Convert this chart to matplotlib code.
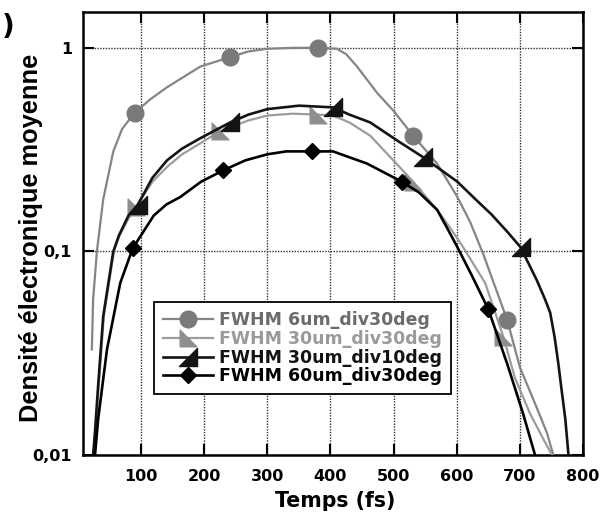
import matplotlib
matplotlib.use("Agg")
import matplotlib.pyplot as plt
from matplotlib.ticker import FixedLocator, FixedFormatter, NullLocator
from matplotlib.path import Path

# ---- data ----
t_6um30 = [22, 24, 30, 40, 56, 70, 90, 115, 141, 194, 241, 270, 300, 340, 380, 410, 425,
           442, 474, 500, 531, 569, 601, 621, 642, 680, 700, 727, 743, 753]
d_6um30 = [0.033, 0.058, 0.10, 0.18, 0.31, 0.40, 0.48, 0.56, 0.64, 0.81, 0.90, 0.96, 0.99,
           1.0, 1.0, 0.99, 0.93, 0.81, 0.60, 0.49, 0.37, 0.27, 0.185, 0.14, 0.097, 0.046,
           0.027, 0.017, 0.0128, 0.01]
m_6um30 = [6, 10, 14, 20, 25]

t_30um30 = [25, 28, 33, 41, 57, 65, 80, 92, 118, 141, 165, 194, 225, 270, 300, 340, 380, 404,
            430, 463, 495, 531, 569, 590, 610, 645, 674, 692, 716, 737, 751]
d_30um30 = [0.01, 0.013, 0.022, 0.048, 0.10, 0.118, 0.145, 0.165, 0.22, 0.26, 0.30, 0.34,
            0.39, 0.44, 0.465, 0.475, 0.47, 0.465, 0.43, 0.37, 0.29, 0.22, 0.16, 0.13, 0.105,
            0.07, 0.038, 0.024, 0.016, 0.012, 0.01]
m_30um30 = [7, 12, 16, 21, 26]

t_30um10 = [24, 27, 32, 40, 56, 65, 80, 95, 118, 141, 165, 194, 241, 270, 300, 350, 404, 430,
            463, 506, 547, 601, 630, 655, 680, 701, 727, 740, 748, 755, 761, 766, 772, 777]
d_30um10 = [0.01, 0.013, 0.022, 0.048, 0.10, 0.12, 0.15, 0.17, 0.23, 0.28, 0.32, 0.36, 0.43,
            0.47, 0.50, 0.52, 0.51, 0.47, 0.43, 0.35, 0.29, 0.22, 0.18, 0.152, 0.125, 0.105,
            0.072, 0.058, 0.05, 0.038, 0.028, 0.021, 0.015, 0.01]
m_30um10 = [7, 12, 16, 20, 25]

t_60um30 = [27, 32, 46, 67, 87, 100, 120, 140, 162, 195, 230, 265, 300, 330, 371, 404, 458,
            513, 540, 569, 585, 601, 625, 650, 680, 705, 724]
d_60um30 = [0.01, 0.015, 0.033, 0.07, 0.104, 0.12, 0.15, 0.17, 0.185, 0.22, 0.25, 0.28, 0.30,
            0.31, 0.31, 0.31, 0.27, 0.22, 0.195, 0.16, 0.13, 0.105, 0.075, 0.052, 0.028,
            0.016, 0.01]
m_60um30 = [4, 10, 14, 17, 23]

labels = ["FWHM 6um_div30deg", "FWHM 30um_div30deg", "FWHM 30um_div10deg", "FWHM 60um_div30deg"]
x_ticks = [100, 200, 300, 400, 500, 600, 700, 800]
y_ticks = [0.01, 0.1, 1]
y_ticklabels = ["0,01", "0,1", "1"]

# ---- styling ----
tri_bl = Path([(-1, -1), (1, -1), (-1, 1), (-1, -1)], closed=True)  # gray marker
tri_br = Path([(-1, -1), (1, -1), (1, 1), (-1, -1)], closed=True)   # black marker

fig = plt.figure(figsize=(6.15, 5.13), dpi=100)
ax = fig.add_axes([83/615, 1 - 455/513, 500/615, 443/513])

ax.plot(t_6um30, d_6um30, color="#858585", lw=1.6, marker="o", ms=12,
        mfc="#7a7a7a", mec="#7a7a7a", markevery=m_6um30, label=labels[0], zorder=3)
ax.plot(t_30um30, d_30um30, color="#9c9c9c", lw=1.6, marker=tri_bl, ms=12,
        mfc="#8e8e8e", mec="#8e8e8e", markevery=m_30um30, label=labels[1], zorder=3)
ax.plot(t_30um10, d_30um10, color="#141414", lw=1.9, marker=tri_br, ms=13,
        mfc="#141414", mec="#141414", markevery=m_30um10, label=labels[2], zorder=4)
ax.plot(t_60um30, d_60um30, color="#000000", lw=1.9, marker="D", ms=8,
        mfc="#000000", mec="#000000", markevery=m_60um30, label=labels[3], zorder=4)

ax.set_yscale("log")
ax.set_xlim(8, 800)
ax.set_ylim(0.01, 1.5)

ax.xaxis.set_major_locator(FixedLocator(x_ticks))
ax.yaxis.set_major_locator(FixedLocator(y_ticks))
ax.yaxis.set_major_formatter(FixedFormatter(y_ticklabels))
ax.yaxis.set_minor_locator(NullLocator())
ax.xaxis.set_minor_locator(NullLocator())

for lab in ax.get_xticklabels() + ax.get_yticklabels():
    lab.set_fontfamily("DejaVu Sans")
    lab.set_fontweight("bold")
    lab.set_fontsize(11.5)
ax.tick_params(axis="both", which="major", direction="in", length=8, width=1.5,
               top=True, right=True, colors="black")
ax.tick_params(axis="x", pad=10)
ax.tick_params(axis="y", pad=8)

for s in ax.spines.values():
    s.set_linewidth(1.8)
    s.set_color("black")

ax.grid(True, which="major", color="#333333", linestyle=(0, (1, 1)), linewidth=1.0)
ax.set_axisbelow(True)

ax.set_xlabel("Temps (fs)", fontfamily="DejaVu Sans", fontweight="bold", fontsize=14.8,
              va="center")
ax.xaxis.set_label_coords(0.505, -0.104)
ax.set_ylabel("Densité électronique moyenne", fontfamily="Liberation Sans", fontweight="bold",
              fontsize=18.3, va="center")
ax.yaxis.set_label_coords(-0.104, 0.49)

leg = ax.legend(loc="upper left", bbox_to_anchor=(0.142, 0.345), borderaxespad=0,
                prop=dict(family="DejaVu Sans", weight="bold", size=12.5),
                frameon=True, fancybox=False, shadow=False, framealpha=1,
                edgecolor="black", handlelength=2.9, handletextpad=0.35,
                labelspacing=0.05, borderpad=0.5)
leg.get_frame().set_linewidth(1.3)
leg.set_zorder(6)
for txt, col in zip(leg.get_texts(), ["#6b6b6b", "#9a9a9a", "#141414", "#000000"]):
    txt.set_color(col)

fig.text(14/615, 1 - 27/513, ")", ha="right", va="center", fontsize=20,
         fontfamily="DejaVu Sans", fontweight="bold")

fig.savefig("out.png", dpi=100)
